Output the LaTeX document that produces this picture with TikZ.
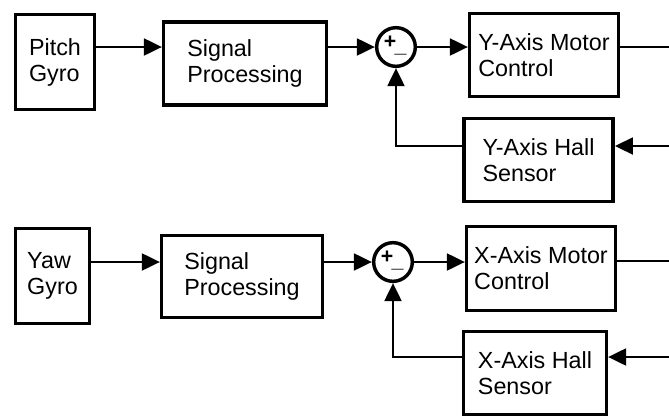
\documentclass[tikz,border=0pt]{standalone}
\usepackage{fontspec}
\setmainfont{Liberation Sans}
\usepackage{tikz}
\usetikzlibrary{arrows.meta,positioning,calc}

\begin{document}
\begin{tikzpicture}[
    x=0.75pt, y=-0.75pt,
    >={Triangle[length=13.5pt,width=12.5pt]},
    block/.style={
        rectangle, draw, line width=2.6pt, align=left,
        font=\fontsize{17.5}{19.5}\selectfont
    },
    sumnode/.style={
        circle, draw, line width=2.6pt, minimum size=29pt, inner sep=0pt
    },
    sign/.style={
        font=\bfseries\fontsize{16}{16}\selectfont, inner sep=0pt
    },
    flow/.style={
        ->, line width=2.2pt
    }
]
\clip (0,0) rectangle (669,415);

% --- Pitch loop (Y axis) ---
\node[block, minimum width=59pt, minimum height=71pt] (pgyro) at (55,62)
    {Pitch\\Gyro};
\node[block, minimum width=122pt, minimum height=62.5pt] (psig) at (245,63.5)
    {Signal\\Processing};
\node[sumnode] (psum) at (396,47) {};
\node[sign] (pplus)  at ([xshift=-4.5pt,yshift=3.5pt]psum.center) {+};
\node[sign] (pminus) at ([xshift=3.5pt,yshift=-5pt]psum.center) {\_};
\node[block, minimum width=111.5pt, minimum height=62pt] (pmotor) at (544,55)
    {Y-Axis Motor\\Control};
\node[block, minimum width=112pt, minimum height=62pt] (phall) at (538.5,160)
    {Y-Axis Hall\\Sensor};
\coordinate (pout) at (669,47);
\coordinate (pin)  at (669,146);

\draw[flow] (pgyro.east |- psum) -- (psig.west |- psum);
\draw[flow] (psig.east |- psum) -- (psum.west);
\draw[flow] (psum.east) -- (pmotor.west |- psum);
\draw[line width=2.2pt] (pmotor.east |- psum) -- (pout);
\draw[flow] (pin) -- (phall.east |- pin);
\draw[flow] (phall.west |- pin) -| (psum.south);

% --- Yaw loop (X axis) ---
\node[block, minimum width=55.25pt, minimum height=71pt] (ygyro) at (52.5,276)
    {Yaw\\Gyro};
\node[block, minimum width=120.5pt, minimum height=61.25pt] (ysig) at (242,276.5)
    {Signal\\Processing};
\node[sumnode] (ysum) at (393,262) {};
\node[sign] (yplus)  at ([xshift=-4.5pt,yshift=3.5pt]ysum.center) {+};
\node[sign] (yminus) at ([xshift=3.5pt,yshift=-5pt]ysum.center) {\_};
\node[block, minimum width=111.5pt, minimum height=62.75pt] (xmotor) at (541,268.5)
    {X-Axis Motor\\Control};
\node[block, minimum width=107pt, minimum height=62pt] (xhall) at (535,373)
    {X-Axis Hall\\Sensor};
\coordinate (yout) at (669,261);
\coordinate (yin)  at (669,357);

\draw[flow] (ygyro.east |- ysum) -- (ysig.west |- ysum);
\draw[flow] (ysig.east |- ysum) -- (ysum.west);
\draw[flow] (ysum.east) -- (xmotor.west |- ysum);
\draw[line width=2.2pt] (xmotor.east |- yout) -- (yout);
\draw[flow] (yin) -- (xhall.east |- yin);
\draw[flow] (xhall.west |- yin) -| (ysum.south);

\end{tikzpicture}
\end{document}
